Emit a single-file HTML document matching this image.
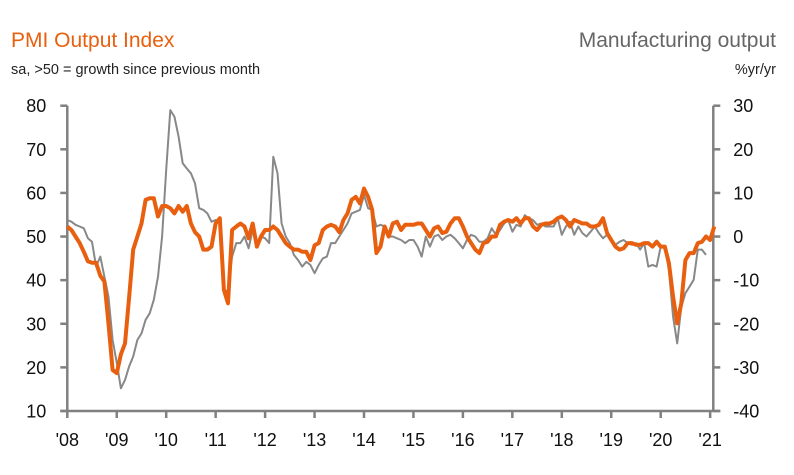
<!DOCTYPE html>
<html><head><meta charset="utf-8"><style>
body{margin:0;background:#fff;}
svg text{font-family:"Liberation Sans",sans-serif;}
</style></head><body>
<svg id="chart" width="794" height="470" xmlns="http://www.w3.org/2000/svg">
<text x="11" y="47" font-size="21" fill="#e8600f">PMI Output Index</text>
<text x="11" y="74" font-size="14.5" fill="#222">sa, &gt;50 = growth since previous month</text>
<text x="776" y="47" font-size="21" fill="#666" text-anchor="end">Manufacturing output</text>
<text x="776" y="74" font-size="14.5" fill="#222" text-anchor="end">%yr/yr</text>
<g id="axes"></g>
<g id="series"></g>
</svg>
<script>
const leftTicks=[80,70,60,50,40,30,20,10];
const rightTicks=[30,20,10,0,-10,-20,-30,-40];
const yearLabels=["'08","'09","'10","'11","'12","'13","'14","'15","'16","'17","'18","'19","'20","'21"];
const pmi=[52.3,51.5,50,48.5,46.5,44.3,44,44,41,39.7,30,19.4,
18.7,23,25.5,36,47,50,53,58.4,58.8,58.8,54.6,57,
57,56.5,55.3,57,55.7,57,53,51,50,47,47,47.7,
53,54.2,37.8,34.7,51.5,52.3,53,52.3,49.6,53,47.7,50,
51.5,51.5,52.3,51.5,50,48.5,47.7,47,47,46.5,46.5,44.6,
48,48.5,51.5,52.3,52.7,52.3,51,53.8,55.3,58.4,59.1,57.6,
61,59.1,56.1,46.2,47.7,52.3,50,53,53.4,51.5,52.7,52.7,
52.7,53,53,51.5,50,51.9,52.3,50.8,51.1,53,54.2,54.2,
52.3,50,48.5,47,46.2,48.5,48.8,50,50,52.7,53.4,53.8,
53.4,54.2,53,54.2,54.2,52.3,51.5,52.7,53,53,53.4,54.2,
54.6,53.8,52.3,53.8,53.4,53,53,52.3,52.3,52.7,54.2,50.8,
49.2,47.7,47,47.3,48.5,48.5,48.1,48.1,48.5,48.5,47.7,48.8,
47.7,47.7,43.9,36.2,30.1,34.7,44.6,46.2,46.2,48.5,48.8,50,
49.2,52.3];
const mfg=[3.8,3.4,2.7,2.3,1.9,-0.4,-1.2,-6.9,-4.6,-9.2,-13.8,-23.7,
-29,-34.8,-32.9,-29.8,-27.5,-23.7,-22.2,-19.1,-17.6,-14.5,-9.2,0,
15.3,29,27.5,22.9,16.8,15.6,14.5,12.2,6.5,6.1,5.3,3.4,
3.8,3,-13,-12.2,-4.6,-1.5,-1.5,0,-2.7,1.5,-1.5,0,
-0.4,-1.5,18.3,14.5,3,0,-1.5,-4.2,-5.4,-6.9,-5.8,-6.5,
-8.4,-6.5,-5,-4.6,-1.5,-1.5,0,1.5,3,5.3,5.7,6.1,
9.5,6.5,6.1,2.3,2.7,2.3,0,0,-0.4,-0.8,-1.5,-0.8,
-0.8,-2.3,-4.6,0,-2.3,0,0.4,-0.8,0,0.4,-0.4,-1.5,
-2.7,-0.8,0.4,0,-1.2,-1.2,-0.4,1.9,0.4,1.5,3,3.8,
1.1,2.7,2.3,4.9,4.2,3.8,2.7,3,2.3,2.3,2.3,4.2,
0.4,2.3,3.4,0.4,2.3,0.8,0,1.1,2.3,0.8,-0.4,0.4,
-1.2,-1.9,-1.2,-0.8,-1.5,-1.9,-1.5,-3,-1.5,-6.9,-6.5,-6.9,
-2.3,-2.3,-7.7,-18.4,-24.5,-16.1,-13,-11.5,-9.9,-3,-3,-4.2];

const X0=67.3, YEARW=49.45, AXL=67.3, AXR=713.3, Y80=105.7, Y10=411;
function x(m){return X0+m*YEARW/12;}
function yL(v){return Y80+(80-v)*(Y10-Y80)/70;}
function yR(v){return yL(v+50);}
const NS="http://www.w3.org/2000/svg";
const axes=document.getElementById('axes'), ser=document.getElementById('series');
function mk(tag,attrs,parent){const e=document.createElementNS(NS,tag);for(const k in attrs)e.setAttribute(k,attrs[k]);parent.appendChild(e);return e;}
const ac="#808080";
let e;
e=mk('line',{x1:AXL,y1:Y80,x2:AXL,y2:Y10,stroke:ac,'stroke-width':2.5},axes);


e=mk('line',{x1:AXR,y1:Y80,x2:AXR,y2:Y10,stroke:ac,'stroke-width':2.5},axes);


e=mk('line',{x1:AXL-7,y1:Y10,x2:AXR+7,y2:Y10,stroke:ac,'stroke-width':2.5},axes);


leftTicks.forEach(v=>{
  const t=mk('line',{x1:AXL-7,y1:yL(v),x2:AXL,y2:yL(v),stroke:ac,'stroke-width':2.5},axes);
  
  
  const l=mk('text',{x:AXL-21,y:yL(v)+6.5,'font-size':18,'text-anchor':'end',fill:'#111'},axes);
  l.textContent=v;
  
  
});
rightTicks.forEach(v=>{
  const t=mk('line',{x1:AXR,y1:yR(v),x2:AXR+7,y2:yR(v),stroke:ac,'stroke-width':2.5},axes);
  
  
  const l=mk('text',{x:AXR+20,y:yR(v)+6.5,'font-size':18,fill:'#111'},axes);
  l.textContent=v;
  
  
});
yearLabels.forEach((s,i)=>{
  const xx=x(i*12);
  const t=mk('line',{x1:xx,y1:Y10,x2:xx,y2:Y10+7,stroke:ac,'stroke-width':2.5},axes);
  
  
  const l=mk('text',{x:xx,y:446,'font-size':18,'text-anchor':'middle',fill:'#111'},axes);
  l.textContent=s;
  
  
});
const gp=mk('polyline',{points:mfg.map((v,i)=>x(i).toFixed(1)+','+yR(v).toFixed(1)).join(' '),fill:'none',stroke:'#888','stroke-width':2,'stroke-linejoin':'round'},ser);


const op=mk('polyline',{points:pmi.map((v,i)=>x(i).toFixed(1)+','+yL(v).toFixed(1)).join(' '),fill:'none',stroke:'#e8600f','stroke-width':4,'stroke-linejoin':'round'},ser);


</script>
</body></html>
